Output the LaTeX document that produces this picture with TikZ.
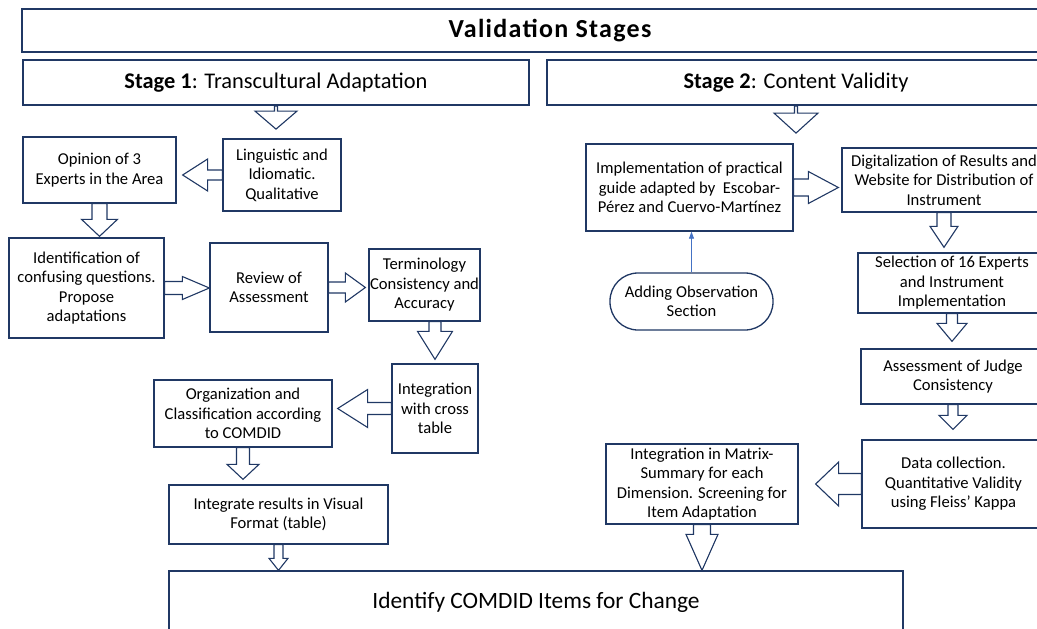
\documentclass[tikz,border=0pt]{standalone}
\usepackage{fontspec}
\setmainfont{Carlito}
\usetikzlibrary{calc,arrows.meta}
\definecolor{navy}{RGB}{32,56,100}
\definecolor{linkblue}{RGB}{68,114,196}
\tikzset{
  pbox/.style={draw=navy, line width=1.3pt, fill=white, align=center,
    font=\fontsize{16.6}{19.5}\selectfont, inner sep=1pt},
  hdr/.style={draw=navy, line width=2.2pt, fill=white, align=center,
    font=\fontsize{22.4}{26}\selectfont, inner sep=1pt},
  barrowstyle/.style={draw=navy, line width=1.1pt, fill=white, line join=miter},
  thinarrow/.style={draw=linkblue, line width=0.8pt, -{Triangle[length=7pt,width=5pt]}},
}
% hollow block arrow: start, end, shaft half width, head half width, head length
\newcommand\barrow[5]{%
  \draw[barrowstyle] let \p1=#1, \p2=#2,
      \n1={atan2(\y2-\y1,\x2-\x1)},
      \n2={veclen(\x2-\x1,\y2-\y1)-#5}
    in ($(\p1)+(\n1+90:#3pt)$)
    -- ($(\p1)+(\n1:{\n2*1pt})+(\n1+90:#3pt)$)
    -- ($(\p1)+(\n1:{\n2*1pt})+(\n1+90:#4pt)$)
    -- (\p2)
    -- ($(\p1)+(\n1:{\n2*1pt})+(\n1-90:#4pt)$)
    -- ($(\p1)+(\n1:{\n2*1pt})+(\n1-90:#3pt)$)
    -- ($(\p1)+(\n1-90:#3pt)$) -- cycle;}
\begin{document}
\begin{tikzpicture}[x=1pt,y=-1pt]
\useasboundingbox (0,0) rectangle (1037,629);
\clip (0,0) rectangle (1037,629);
% headers
\node[hdr, minimum width=1056pt, minimum height=43pt, font=\fontsize{26}{30}\selectfont] (title) at (550,30.5) {\bfseries\addfontfeatures{LetterSpace=5}Validation Stages};
\node[hdr, minimum width=506pt, minimum height=45pt] (s1) at (276,82.5) {\textbf{Stage 1}: Transcultural Adaptation};
\node[hdr, minimum width=498pt, minimum height=45pt] (s2) at (796,82.5) {\textbf{Stage 2}: Content Validity};
% stage 1 boxes
\node[pbox, minimum width=153pt, minimum height=66pt] (opin) at (99.5,170) {Opinion of 3\\Experts in the Area};
\node[pbox, minimum width=118pt, minimum height=72pt] (ling) at (282,175) {Linguistic and\\Idiomatic.\\Qualitative};
\node[pbox, minimum width=155pt, minimum height=100pt] (ident) at (86.5,288) {Identification of\\confusing questions.\\Propose\\adaptations};
\node[pbox, minimum width=118pt, minimum height=89pt] (review) at (269,287.5) {Review of\\Assessment};
\node[pbox, minimum width=107pt, minimum height=72pt] (term) at (424.5,285) {Terminology\\Consistency and\\Accuracy};
\node[pbox, minimum width=86pt, minimum height=89pt] (cross) at (435,408.5) {Integration\\with cross\\table};
\node[pbox, minimum width=178pt, minimum height=67pt] (org) at (243,413.5) {Organization and\\Classification according\\to COMDID};
\node[pbox, minimum width=219pt, minimum height=59pt] (res) at (278.5,514.5) {Integrate results in Visual\\Format (table)};
\node[pbox, minimum width=734pt, minimum height=63pt, font=\fontsize{23.4}{27}\selectfont] (change) at (536,602.5) {Identify COMDID Items for Change};
% stage 2 boxes
\node[pbox, minimum width=207pt, minimum height=87pt] (impl) at (689.5,187.5) {Implementation of practical\\guide adapted by\ \ Escobar-\\Pérez and Cuervo-Martínez};
\node[pbox, minimum width=204pt, minimum height=64pt] (dig) at (944,180) {Digitalization of Results and\\Website for Distribution of\\Instrument};
\node[pbox, minimum width=188pt, minimum height=60pt] (sel) at (952,283) {Selection of 16 Experts\\and Instrument\\Implementation};
\node[pbox, minimum width=163pt, minimum height=57pt, rounded corners=28pt] (obs) at (691.5,301.5) {Adding Observation\\Section};
\node[pbox, minimum width=184pt, minimum height=55pt] (assess) at (953,376.5) {Assessment of Judge\\Consistency};
\node[pbox, minimum width=183pt, minimum height=88pt] (data) at (953.5,484) {Data collection.\\Quantitative Validity\\using Fleiss’ Kappa};
\node[pbox, minimum width=192pt, minimum height=80pt] (matrix) at (702,484) {Integration in Matrix-\\Summary for each\\Dimension. Screening for\\Item Adaptation};
% block arrows, stage 1
\barrow{(s1.south)}{($(s1.south)+(0,23)$)}{1.5}{21}{18}
\barrow{(ling.west)}{($(ling.west -| opin.east)+(6,0)$)}{5}{16}{25}
\barrow{(opin.south)}{($(opin.south |- ident.north)+(0,-1)$)}{7.5}{18}{17}
\barrow{(ident.east)}{(ident.east -| review.west)}{6.5}{11.5}{27}
\barrow{(review.east)}{($(review.east -| term.west)+(-3,0)$)}{5.5}{14.5}{20}
\barrow{(cross.north |- term.south)}{($(cross.north)+(0,-4)$)}{6}{17.5}{28}
\barrow{(cross.west)}{($(cross.west -| org.east)+(5,0)$)}{6}{19}{30}
\barrow{(org.south)}{($(org.south |- res.north)+(0,-5)$)}{6.5}{16}{15}
\barrow{(res.south)}{(res.south |- change.north)}{4.5}{9.5}{12}
% block arrows, stage 2
\barrow{(s2.south)}{($(s2.south)+(0,27)$)}{1.5}{22}{20}
\barrow{(impl.east)}{($(impl.east -| dig.west)+(-3,0)$)}{8.5}{16}{30}
\barrow{(dig.south)}{($(dig.south |- sel.north)+(0,-5)$)}{7}{14}{21}
\barrow{(sel.south)}{($(sel.south |- assess.north)+(0,-7)$)}{5.5}{15}{18}
\barrow{(assess.south)}{($(assess.south |- data.north)+(0,-10)$)}{5}{14}{14}
\barrow{(data.west)}{($(data.west -| matrix.east)+(17,0)$)}{10.5}{22}{23}
\barrow{(matrix.south)}{(matrix.south |- change.north)}{8.5}{16}{36}
% thin connector
\draw[thinarrow] (obs.north) -- (obs.north |- impl.south);
\end{tikzpicture}
\end{document}
